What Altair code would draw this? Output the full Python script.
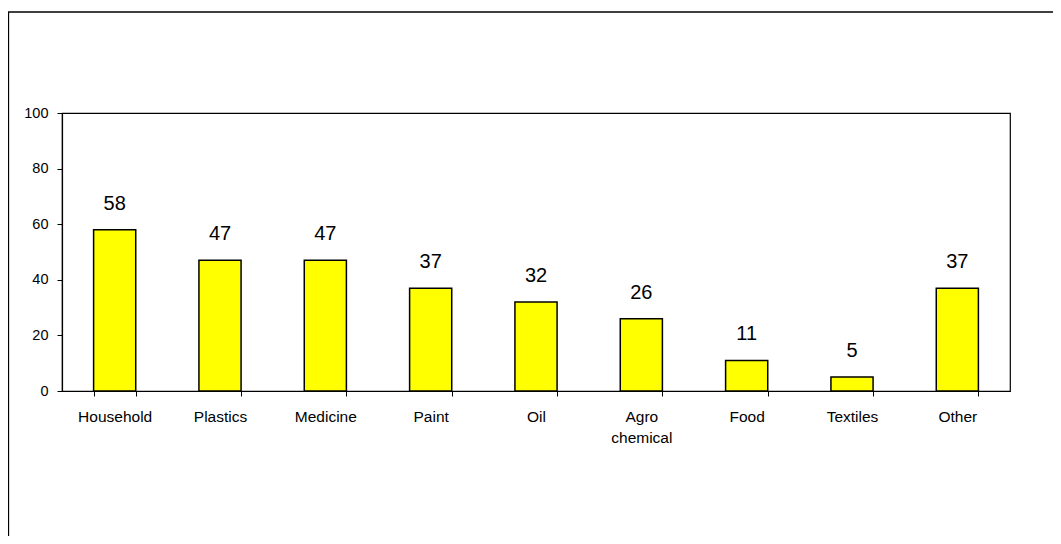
import altair as alt
import pandas as pd

categories = ["Household", "Plastics", "Medicine", "Paint", "Oil",
              "Agro chemical", "Food", "Textiles", "Other"]
values = [58, 47, 47, 37, 32, 26, 11, 5, 37]
y_ticks = [0, 20, 40, 60, 80, 100]

df = pd.DataFrame({"category": categories, "value": values})
FONT = "Liberation Sans"

x_enc = alt.X(
    "category:N", sort=categories,
    scale=alt.Scale(paddingInner=0.6, paddingOuter=0.3),
    axis=alt.Axis(title=None, labelAngle=0, labelExpr="split(datum.label, ' ')",
                  tickBand="extent", tickSize=5, labelPadding=13,
                  labelFontSize=15.5, labelLineHeight=21, labelBaseline="top"),
)
y_enc = alt.Y(
    "value:Q",
    scale=alt.Scale(domain=[0, 100], nice=False),
    axis=alt.Axis(title=None, values=y_ticks, tickSize=5, labelPadding=9,
                  labelFontSize=14.5, grid=False),
)

base = alt.Chart(df)
bars = base.mark_bar(color="#FFFF00", stroke="black", strokeWidth=1.5).encode(x=x_enc, y=y_enc)
labels = base.mark_text(baseline="alphabetic", dy=-20, fontSize=20, font=FONT, color="black").encode(
    x=alt.X("category:N", sort=categories), y="value:Q", text="value:Q"
)
frame = alt.Chart(pd.DataFrame({"f": [0]})).mark_rect(
    fill=None, stroke="black", strokeWidth=1.3
).encode(x=alt.value(-53.5), x2=alt.value(3000), y=alt.value(-101), y2=alt.value(3000))

chart = alt.layer(frame, bars, labels).properties(
    width=948, height=278,
    background="white",
    autosize=alt.AutoSizeParams(type="none"),
    padding={"left": 54, "top": 105, "right": 43, "bottom": 145},
).configure_view(stroke="black", strokeWidth=1.2).configure_axis(
    domainColor="black", tickColor="black", labelColor="black", labelFont=FONT,
    domainWidth=1.2, tickWidth=1, grid=False,
)

chart.save("out.html", embed_options={"renderer": "svg", "actions": False})
